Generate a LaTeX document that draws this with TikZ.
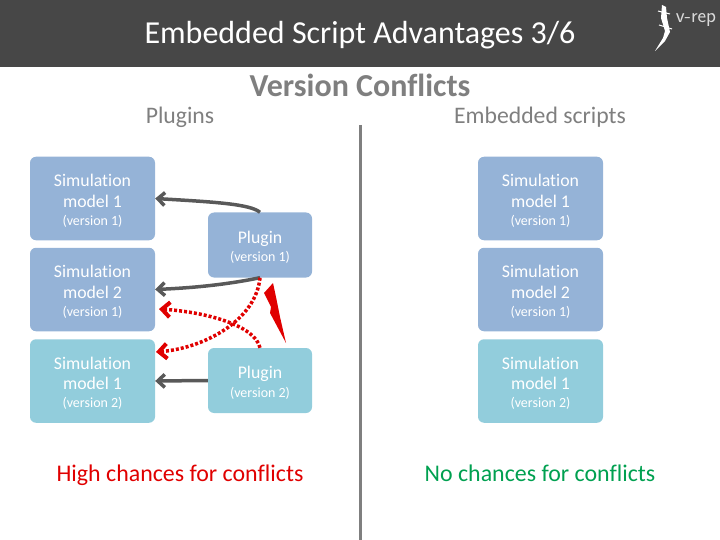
\documentclass[tikz,border=0pt]{standalone}
\usepackage{fontspec}
\setmainfont{Carlito}[Ligatures=NoCommon]
\usetikzlibrary{calc,positioning,arrows.meta}
\definecolor{HeaderDark}{HTML}{474747}
\definecolor{ModelBlue}{HTML}{95B3D7}
\definecolor{ModelCyan}{HTML}{92CDDC}
\definecolor{ArrowGray}{HTML}{595959}
\definecolor{HeadGray}{HTML}{7F7F7F}
\definecolor{RuleGray}{HTML}{7F7F7F}
\definecolor{ClashRed}{HTML}{E00000}
\definecolor{CalmGreen}{HTML}{00A050}
\newcommand{\bigline}[1]{{\fontsize{17.8pt}{20pt}\selectfont #1}}
\newcommand{\smallline}[1]{{\fontsize{14pt}{16pt}\selectfont #1}}
\newcommand{\modeltext}[2]{\rule{0pt}{17pt}\bigline{Simulation}\\[7pt] \bigline{model #1}\\[6pt] \smallline{(version #2)}}
\newcommand{\plugintext}[1]{\rule{0pt}{17pt}\bigline{Plugin}\\[4pt] \smallline{(version #1)}}
\tikzset{
  model/.style={rounded corners=6pt, draw=none, text=white, align=center, inner sep=0pt,
    minimum width=125pt, minimum height=83.5pt},
  plugin/.style={rounded corners=6pt, draw=none, text=white, align=center, inner sep=0pt,
    minimum width=104pt, minimum height=65pt},
  heading/.style={text=HeadGray, font=\fontsize{23.7pt}{26pt}\selectfont, inner sep=0pt, anchor=base},
  verdict/.style={font=\fontsize{23.9pt}{26pt}\selectfont, inner sep=0pt, anchor=base},
  link/.style={draw=ArrowGray, line width=3.5pt, -{Straight Barb[length=7pt,width=13pt,line width=3.5pt]}},
  clash/.style={draw=ClashRed, line width=3.5pt, dash pattern=on 3pt off 2pt,
    -{Straight Barb[length=8pt,width=15pt,line width=4pt,color=ClashRed]}}
}
\begin{document}
\begin{tikzpicture}[x=1pt,y=-1pt]
  \useasboundingbox (0,0) rectangle (720,540);
  % header
  \fill[HeaderDark] (0,0) rectangle (720,67);
  \node[text=white, font=\fontsize{32pt}{35pt}\selectfont, inner sep=0pt, anchor=base] (title) at (360,44) {Embedded Script Advantages 3/6};
  \node[text=white!85!black, font=\fontsize{20.5pt}{22pt}\selectfont\sffamily, inner sep=0pt] (logo) at (696,20) {v-rep};
  \fill[white] (662,5) -- (666,7) -- (667,18) -- (670,32) -- (665,41) -- (655,51) -- (663,38) -- (665,31) -- (661,18) -- cycle;
  \draw[white, line width=1pt] (658,11) -- (670,14) (659,25) -- (672,29);

  \node[text=HeadGray, font=\fontsize{32pt}{35pt}\selectfont\bfseries, inner sep=0pt, anchor=base] (topic) at (360,96.5) {Version Conflicts};
  \node[heading] (leftHead) at (180,123.5) {Plugins};
  \node[heading] (rightHead) at (540,123.5) {Embedded scripts};
  \draw[RuleGray, line width=3pt] (360,125) -- (360,540);

  % left column
  \node[model, fill=ModelBlue] (modA) at (92.5,198.5) {\modeltext{1}{1}};
  \node[model, fill=ModelBlue] (modB) at (92.5,289.5) {\modeltext{2}{1}};
  \node[model, fill=ModelCyan] (modC) at (92.5,381) {\modeltext{1}{2}};
  \node[plugin, fill=ModelBlue] (plugA) at (260,245) {\plugintext{1}};
  \node[plugin, fill=ModelCyan] (plugB) at (260,380.5) {\plugintext{2}};

  % right column
  \node[model, fill=ModelBlue] (scrA) at (540.5,198.5) {\modeltext{1}{1}};
  \node[model, fill=ModelBlue] (scrB) at (540.5,289.5) {\modeltext{2}{1}};
  \node[model, fill=ModelCyan] (scrC) at (540.5,381) {\modeltext{1}{2}};

  % connectors
  \coordinate (hitB) at (159,309);
  \coordinate (hitC) at (156,352);
  \draw[link] (plugA.north) .. controls (250,204) and (215,202) .. (modA.east);
  \draw[link] (plugA.south) .. controls (225,285) and (190,288) .. (modB.east);
  \draw[link] (plugB.west) -- (modC.east);
  \draw[clash] (plugA.south) .. controls (256,320) and (205,348) .. (hitC);
  \draw[clash] (plugB.north) .. controls (255,325) and (205,312) .. (hitB);
  \fill[ClashRed] (273,283) -- (264,293) -- (271,307) -- (270,313) -- (286,343) -- (280,317) -- (276,297) -- cycle;

  \node[verdict, text=ClashRed] (highText) at (180,481) {High chances for conflicts};
  \node[verdict, text=CalmGreen] (noText) at (540,481) {No chances for conflicts};
\end{tikzpicture}
\end{document}
